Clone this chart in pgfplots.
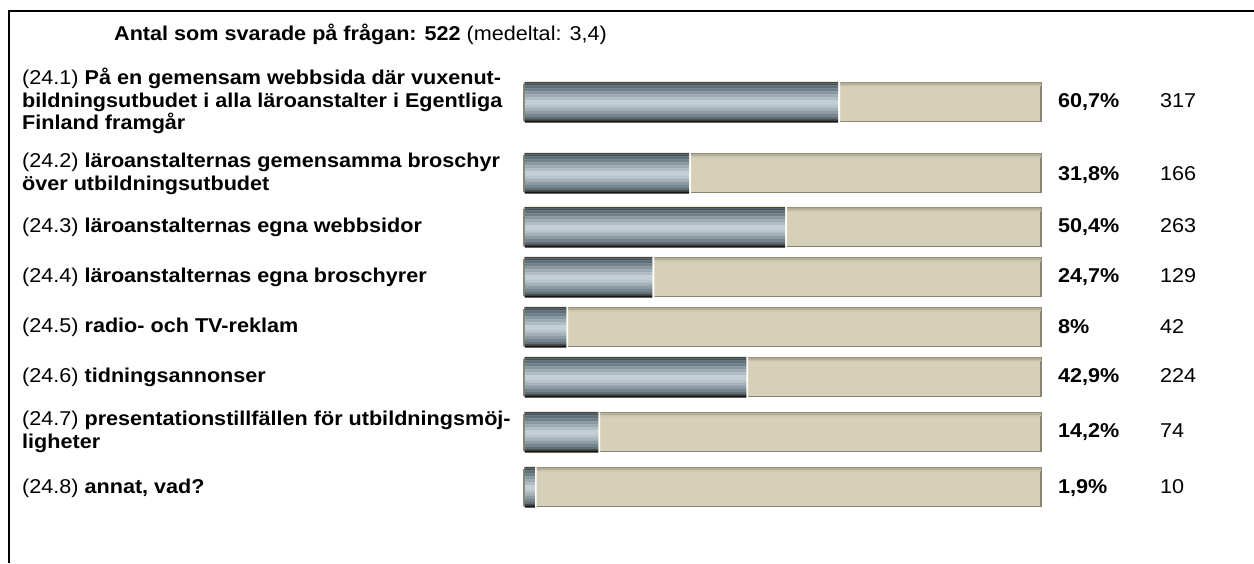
\documentclass[border=0pt]{standalone}
\usepackage{fontspec}
\setmainfont{Liberation Sans}[FakeStretch=1.08]
\usepackage{pgfplots}
\pgfplotsset{compat=1.18}
\usepackage{pgfplotstable}
\definecolor{tkd}{HTML}{8A8371}
\definecolor{tkl}{HTML}{B3AD99}
\definecolor{tkm}{HTML}{C9C3AB}
\definecolor{beige}{HTML}{D6D0B9}
\definecolor{s01}{HTML}{4A4536}
\definecolor{s02}{HTML}{44545D}
\definecolor{s03}{HTML}{5E6F78}
\definecolor{s04}{HTML}{6E7F88}
\definecolor{s05}{HTML}{8898A1}
\definecolor{s06}{HTML}{9CAAB1}
\definecolor{s07}{HTML}{AEBCC3}
\definecolor{s08}{HTML}{C4CFD5}
\definecolor{s09}{HTML}{B8C4CA}
\definecolor{s10}{HTML}{A4B2B9}
\definecolor{s11}{HTML}{8E9DA5}
\definecolor{s12}{HTML}{76868F}
\definecolor{s13}{HTML}{151515}
\newcommand{\fs}{\fontsize{20}{22.5}\selectfont}
\pgfplotstableread{
pos val rest
102 60.7 39.3
173 31.8 68.2
227 50.4 49.6
277 24.7 75.3
327 8.0 92.0
377 42.9 57.1
432 14.2 85.8
487 1.9 98.1
}\data
% one horizontal strip of the metallic bar: shift (positive = up), width, colour
\newcommand{\strip}[3]{\addplot[xbar, bar shift=#1pt, bar width=#2pt, fill=#3, draw=none] table[x=val, y=pos] {\data};}
\newcommand{\tstrip}[3]{\addplot[xbar, bar shift=#1pt, bar width=#2pt, fill=#3, draw=none] table[x expr=100, y=pos] {\data};}
\begin{document}
\begin{tikzpicture}[x=1pt,y=1pt]
\useasboundingbox (0,0) rectangle (1254,-563);
\draw[line width=2pt] (8.5,-563) -- (8.5,-11) -- (1254,-11);
\node[anchor=west,inner sep=0pt,font=\fs] at (114,-34) {\textbf{Antal som svarade på frågan: 522} (medeltal: 3,4)};
\begin{axis}[at={(525pt,0pt)}, anchor=north west, scale only axis,
  width=516pt, height=563pt, xmin=0, xmax=100, ymin=0, ymax=563,
  y dir=reverse,
  axis line style={draw=none}, major tick length=0pt, xtick=\empty,
  ytick={101,174,227,277,327,377,432,488},
  yticklabels={
    {(24.1) \textbf{På en gemensam webbsida där vuxenut-}\\\textbf{bildningsutbudet i alla läroanstalter i Egentliga}\\\textbf{Finland framgår}},
    {(24.2) \textbf{läroanstalternas gemensamma broschyr}\\\textbf{över utbildningsutbudet}},
    {(24.3) \textbf{läroanstalternas egna webbsidor}},
    {(24.4) \textbf{läroanstalternas egna broschyrer}},
    {(24.5) \textbf{radio- och TV-reklam}},
    {(24.6) \textbf{tidningsannonser}},
    {(24.7) \textbf{presentationstillfällen för utbildningsmöj-}\\\textbf{ligheter}},
    {(24.8) \textbf{annat, vad?}}},
  yticklabel style={anchor=west, inner sep=0pt, xshift=-503pt, align=left, font=\fs},
  clip=false]
% track (full width, behind)
\addplot[xbar, bar shift=0pt, bar width=39pt, fill=beige, draw=tkd, line width=1.3pt] table[x expr=100, y=pos] {\data};
\tstrip{18.2}{2.2}{tkl}
\tstrip{16.4}{1.6}{tkm}
% white gap between filled part and track
\addplot[xbar, bar shift=0pt, bar width=41pt, fill=white, draw=none] table[x expr=\thisrow{val}+0.35, y=pos] {\data};
% thin taupe edge at the left end of each bar
\addplot[xbar, bar shift=-0.5pt, bar width=37pt, fill=tkd, draw=none] table[x expr=-0.35, y=pos] {\data};
% metallic filled part, strip by strip from top to bottom
\strip{19.25}{1.8}{s01}
\strip{17.5}{2.3}{s02}
\strip{15}{3.3}{s03}
\strip{12}{3.3}{s04}
\strip{9}{3.3}{s05}
\strip{6}{3.3}{s06}
\strip{3}{3.3}{s07}
\strip{-0.5}{4.3}{s08}
\strip{-4}{3.3}{s09}
\strip{-7}{3.3}{s10}
\strip{-10}{3.3}{s11}
\strip{-13}{3.3}{s12}
\strip{-15.5}{2.3}{s03}
\strip{-17.25}{1.8}{s02}
\strip{-18.5}{1.2}{s01}
\strip{-19.75}{1.6}{s13}
\end{axis}
\begin{axis}[at={(525pt,0pt)}, anchor=north west, scale only axis,
  width=516pt, height=563pt, xmin=0, xmax=100, ymin=0, ymax=563,
  y dir=reverse,
  axis line style={draw=none}, major tick length=0pt, xtick=\empty,
  yticklabel pos=right,
  ytick={102,175,227,277,327,377,432,488},
  yticklabels={
    {\makebox[102pt][l]{\textbf{60,7\%}}317},
    {\makebox[102pt][l]{\textbf{31,8\%}}166},
    {\makebox[102pt][l]{\textbf{50,4\%}}263},
    {\makebox[102pt][l]{\textbf{24,7\%}}129},
    {\makebox[102pt][l]{\textbf{8\%}}42},
    {\makebox[102pt][l]{\textbf{42,9\%}}224},
    {\makebox[102pt][l]{\textbf{14,2\%}}74},
    {\makebox[102pt][l]{\textbf{1,9\%}}10}},
  yticklabel style={anchor=west, inner sep=0pt, xshift=17pt, font=\fs},
  clip=false]
\end{axis}
\end{tikzpicture}
\end{document}
